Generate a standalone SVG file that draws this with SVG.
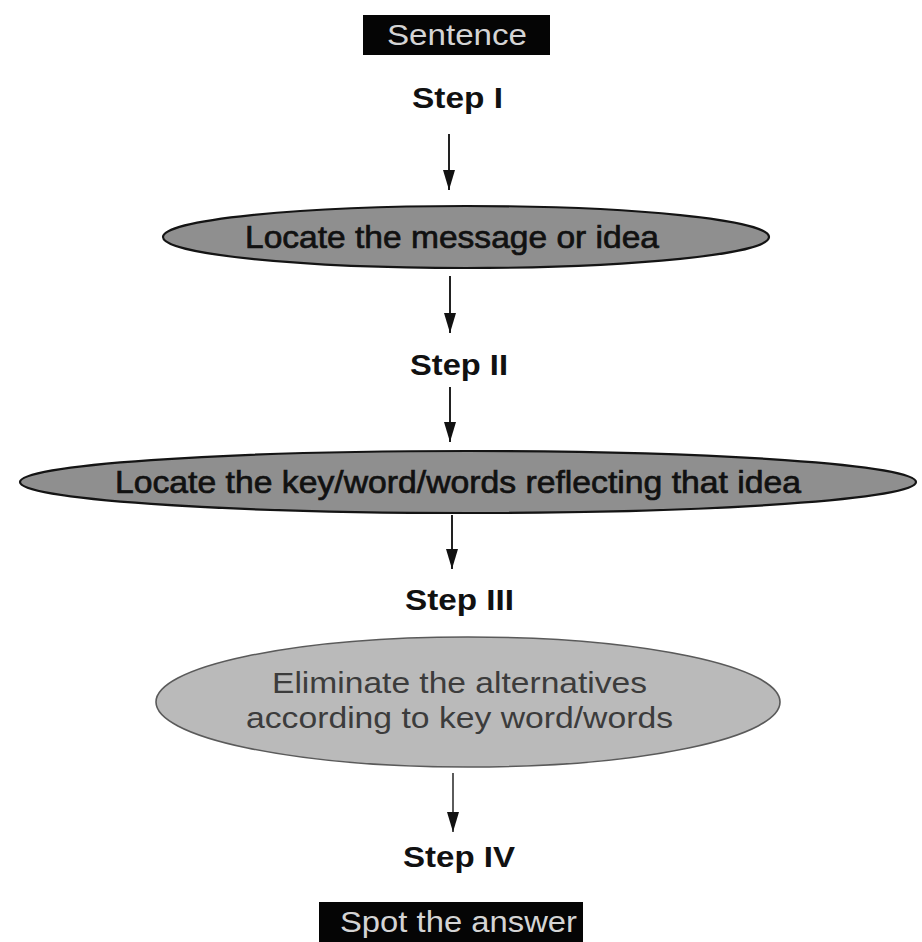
<svg xmlns="http://www.w3.org/2000/svg" width="922" height="942" viewBox="0 0 922 942">
<style>
.bg{fill:#ffffff}
.box{fill:#050505}
.boxtxt{font-family:"Liberation Sans",Arial,sans-serif;font-size:30px;fill:#d4d4d4}
.step{font-family:"Liberation Sans",Arial,sans-serif;font-size:30px;font-weight:bold;fill:#111111}
.dark{fill:#8f8f8f;stroke:#141414;stroke-width:2.2}
.light{fill:#bababa;stroke:#5a5a5a;stroke-width:1.6}
.etxt{font-family:"Liberation Sans",Arial,sans-serif;font-size:32px;fill:#111111;stroke:#111111;stroke-width:0.7}
.ltxt{font-family:"Liberation Sans",Arial,sans-serif;font-size:29px;fill:#3c3c3c}
</style>
<defs>
<marker id="ahb" viewBox="0 0 20 12" refX="20" refY="6" markerWidth="20" markerHeight="12" orient="auto" markerUnits="userSpaceOnUse">
<path d="M0,0 L20,6 L0,12 Z" fill="#111111"/>
</marker>
</defs>
<rect class="bg" x="0" y="0" width="922" height="942"/>
<g id="connectors">
<line x1="449" y1="134" x2="449" y2="190" stroke="#222" stroke-width="2" marker-end="url(#ahb)"/>
<line x1="450" y1="276" x2="450" y2="333" stroke="#222" stroke-width="2" marker-end="url(#ahb)"/>
<line x1="450" y1="387" x2="450" y2="442" stroke="#222" stroke-width="2" marker-end="url(#ahb)"/>
<line x1="452" y1="515" x2="452" y2="569" stroke="#222" stroke-width="2" marker-end="url(#ahb)"/>
<line x1="453" y1="773" x2="453" y2="832" stroke="#333" stroke-width="1.6" marker-end="url(#ahb)"/>
</g>
<g id="sentence">
<rect class="box" x="363" y="15" width="187" height="40"/>
<text class="boxtxt" x="457" y="45" text-anchor="middle" textLength="140" lengthAdjust="spacingAndGlyphs">Sentence</text>
</g>
<g id="step1">
<text class="step" x="457.5" y="108" text-anchor="middle" textLength="91" lengthAdjust="spacingAndGlyphs">Step I</text>
</g>
<g id="locate-message">
<ellipse class="dark" cx="466" cy="237" rx="303" ry="31"/>
<text class="etxt" x="452" y="248" text-anchor="middle" textLength="414" lengthAdjust="spacingAndGlyphs">Locate the message or idea</text>
</g>
<g id="step2">
<text class="step" x="459" y="375" text-anchor="middle" textLength="98" lengthAdjust="spacingAndGlyphs">Step II</text>
</g>
<g id="locate-key">
<ellipse class="dark" cx="468" cy="482" rx="448" ry="31"/>
<text class="etxt" x="458" y="493" text-anchor="middle" textLength="686" lengthAdjust="spacingAndGlyphs">Locate the key/word/words reflecting that idea</text>
</g>
<g id="step3">
<text class="step" x="459.5" y="610" text-anchor="middle" textLength="109" lengthAdjust="spacingAndGlyphs">Step III</text>
</g>
<g id="eliminate">
<ellipse class="light" cx="468" cy="702" rx="312" ry="65"/>
<text class="ltxt" x="459.5" y="693" text-anchor="middle" textLength="375" lengthAdjust="spacingAndGlyphs">Eliminate the alternatives</text>
<text class="ltxt" x="459.5" y="728" text-anchor="middle" textLength="427" lengthAdjust="spacingAndGlyphs">according to key word/words</text>
</g>
<g id="step4">
<text class="step" x="459" y="867" text-anchor="middle" textLength="112" lengthAdjust="spacingAndGlyphs">Step IV</text>
</g>
<g id="spot">
<rect class="box" x="319" y="902" width="264" height="40"/>
<text class="boxtxt" x="458.5" y="932" text-anchor="middle" textLength="237" lengthAdjust="spacingAndGlyphs">Spot the answer</text>
</g>
</svg>
